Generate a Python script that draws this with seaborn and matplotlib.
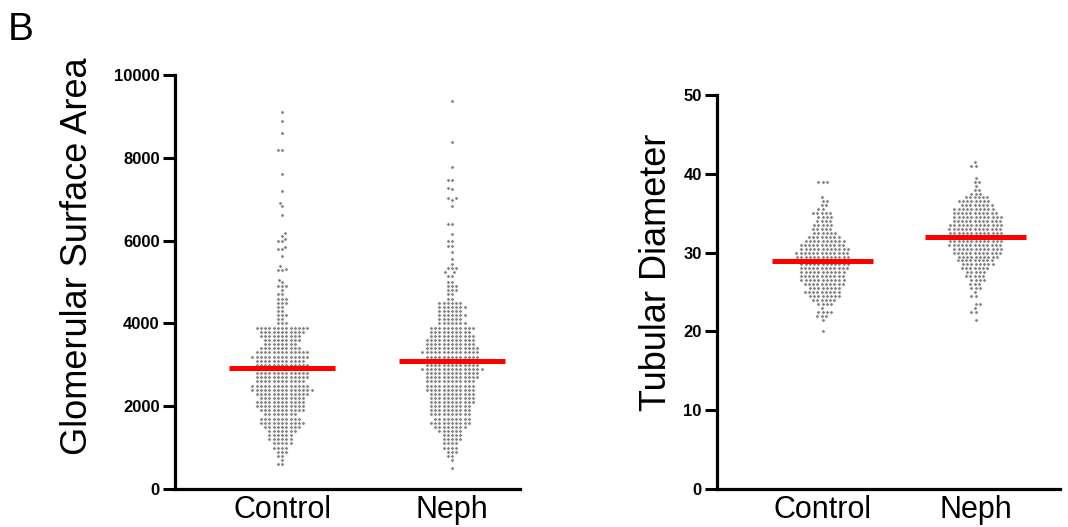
import numpy as np
import pandas as pd
import matplotlib
matplotlib.use("Agg")
import matplotlib.pyplot as plt
import seaborn as sns

groups = ["Control", "Neph"]

# Glomerular surface area: row levels and number of dots per row, plus sparse upper tail
area_ctrl_levels = [600, 700, 800, 900, 1000, 1100, 1200, 1300, 1400, 1500,
                    1600, 1700, 1800, 1900, 2000, 2100, 2200, 2300, 2400, 2500,
                    2600, 2700, 2800, 2900, 3000, 3100, 3200, 3300, 3400, 3500,
                    3600, 3700, 3800, 3900, 4000, 4100, 4200, 4300, 4400, 4500,
                    4600, 4700, 4800, 4900, 5000]
area_ctrl_counts = [2, 1, 2, 3, 4, 5, 6, 6, 7, 9,
                    11, 10, 8, 11, 12, 12, 11, 13, 15, 14,
                    12, 13, 13, 14, 13, 12, 14, 13, 10, 8,
                    9, 10, 11, 13, 3, 2, 3, 2, 2, 3,
                    3, 2, 1, 3, 1]
area_ctrl_tail = [5060, 5300, 5300, 5310, 5390, 5630, 5790, 5790, 5850, 5980,
                  6000, 6050, 6110, 6180, 6610, 6840, 6920, 7200, 7600, 8200,
                  8200, 8600, 8890, 9110]

area_neph_levels = [500, 600, 700, 800, 900, 1000, 1100, 1200, 1300, 1400,
                    1500, 1600, 1700, 1800, 1900, 2000, 2100, 2200, 2300, 2400,
                    2500, 2600, 2700, 2800, 2900, 3000, 3100, 3200, 3300, 3400,
                    3500, 3600, 3700, 3800, 3900, 4000, 4100, 4200, 4300, 4400,
                    4500, 4600, 4700, 4800, 4900, 5000]
area_neph_counts = [1, 0, 1, 2, 3, 4, 4, 5, 5, 6,
                    8, 10, 9, 10, 10, 10, 11, 11, 11, 12,
                    12, 12, 13, 13, 15, 13, 13, 13, 14, 13,
                    12, 12, 11, 10, 11, 7, 6, 7, 6, 7,
                    6, 2, 2, 3, 3, 2]
area_neph_tail = [5150, 5150, 5230, 5230, 5330, 5330, 5330, 5440, 5550, 5730,
                  5870, 5870, 5990, 5990, 6150, 6400, 6400, 6840, 6980, 7030,
                  7030, 7240, 7280, 7460, 7460, 7770, 8390, 9360]

# Tubular diameter
diam_ctrl_levels = [20.0, 20.5, 21.0, 21.5, 22.0, 22.5, 23.0, 23.5, 24.0, 24.5,
                    25.0, 25.5, 26.0, 26.5, 27.0, 27.5, 28.0, 28.5, 29.0, 29.5,
                    30.0, 30.5, 31.0, 31.5, 32.0, 32.5, 33.0, 33.5, 34.0, 34.5,
                    35.0, 35.5, 36.0, 36.5, 37.0, 37.5, 38.0, 38.5, 39.0]
diam_ctrl_counts = [1, 0, 0, 1, 3, 4, 1, 4, 6, 8,
                    9, 8, 10, 11, 11, 11, 12, 12, 13, 13,
                    13, 12, 11, 10, 8, 6, 5, 5, 4, 4,
                    5, 2, 2, 2, 1, 0, 0, 0, 3]

diam_neph_levels = [21.5, 22.0, 22.5, 23.0, 23.5, 24.0, 24.5, 25.0, 25.5, 26.0,
                    26.5, 27.0, 27.5, 28.0, 28.5, 29.0, 29.5, 30.0, 30.5, 31.0,
                    31.5, 32.0, 32.5, 33.0, 33.5, 34.0, 34.5, 35.0, 35.5, 36.0,
                    36.5, 37.0, 37.5, 38.0, 38.5, 39.0, 39.5, 40.0, 40.5, 41.0,
                    41.5]
diam_neph_counts = [1, 0, 2, 1, 2, 0, 2, 1, 3, 3,
                    4, 5, 5, 7, 8, 9, 10, 12, 12, 13,
                    13, 13, 13, 13, 13, 12, 12, 11, 10, 8,
                    8, 6, 3, 2, 1, 2, 1, 0, 0, 2,
                    1]

area = {
    "Control": np.concatenate([np.repeat(area_ctrl_levels, area_ctrl_counts), area_ctrl_tail]),
    "Neph": np.concatenate([np.repeat(area_neph_levels, area_neph_counts), area_neph_tail]),
}
diam = {
    "Control": np.repeat(diam_ctrl_levels, diam_ctrl_counts),
    "Neph": np.repeat(diam_neph_levels, diam_neph_counts),
}

def to_long(d):
    return pd.DataFrame({"group": np.concatenate([[g] * len(d[g]) for g in groups]),
                         "value": np.concatenate([d[g] for g in groups])})

sns.set_style("ticks")
plt.rcParams["font.family"] = ["Liberation Sans", "DejaVu Sans"]
plt.rcParams["text.color"] = "black"
plt.rcParams["axes.labelcolor"] = "black"
plt.rcParams["xtick.color"] = "black"
plt.rcParams["ytick.color"] = "black"

fig = plt.figure(figsize=(10.68, 5.27), dpi=100)
ax1 = fig.add_axes([0.1639, 0.0721, 0.323, 0.7856])
ax2 = fig.add_axes([0.6713, 0.0721, 0.321, 0.7476])

panels = [
    (ax1, area, "Glomerular Surface Area", (0, 10000), [0, 2000, 4000, 6000, 8000, 10000],
     (-0.63, 1.40), 0.31, (-0.232, 0.562)),
    (ax2, diam, "Tubular Diameter", (0, 50), [0, 10, 20, 30, 40, 50],
     (-0.69, 1.55), 0.33, (-0.125, 0.55)),
]

for ax, d, label, ylim, yticks, xlim, half, lab_xy in panels:
    sns.swarmplot(data=to_long(d), x="group", y="value", order=groups,
                  color="#7c7c7c", size=2.45, linewidth=0.45, edgecolor="white", ax=ax)
    for i, g in enumerate(groups):
        ax.hlines(np.mean(d[g]), i - half, i + half, colors="#ff0000",
                  linewidth=3.6, zorder=5)
    ax.set_ylim(*ylim)
    ax.set_xlim(*xlim)
    ax.set_yticks(yticks)
    ax.set_xlabel("")
    ax.set_ylabel(label, fontsize=26, color="black")
    ax.yaxis.set_label_coords(*lab_xy)
    sns.despine(ax=ax)
    for s in ["left", "bottom"]:
        ax.spines[s].set_linewidth(2.3)
        ax.spines[s].set_color("black")
    ax.tick_params(axis="y", length=9, width=2.2, pad=2, labelsize=12, colors="black")
    ax.tick_params(axis="x", length=0, pad=4, labelsize=22, colors="black")
    for t in ax.get_yticklabels():
        t.set_fontweight("bold")

fig.text(0.007, 0.978, "B", fontsize=28, va="top", ha="left", color="black")

fig.savefig("out.png", dpi=100)
